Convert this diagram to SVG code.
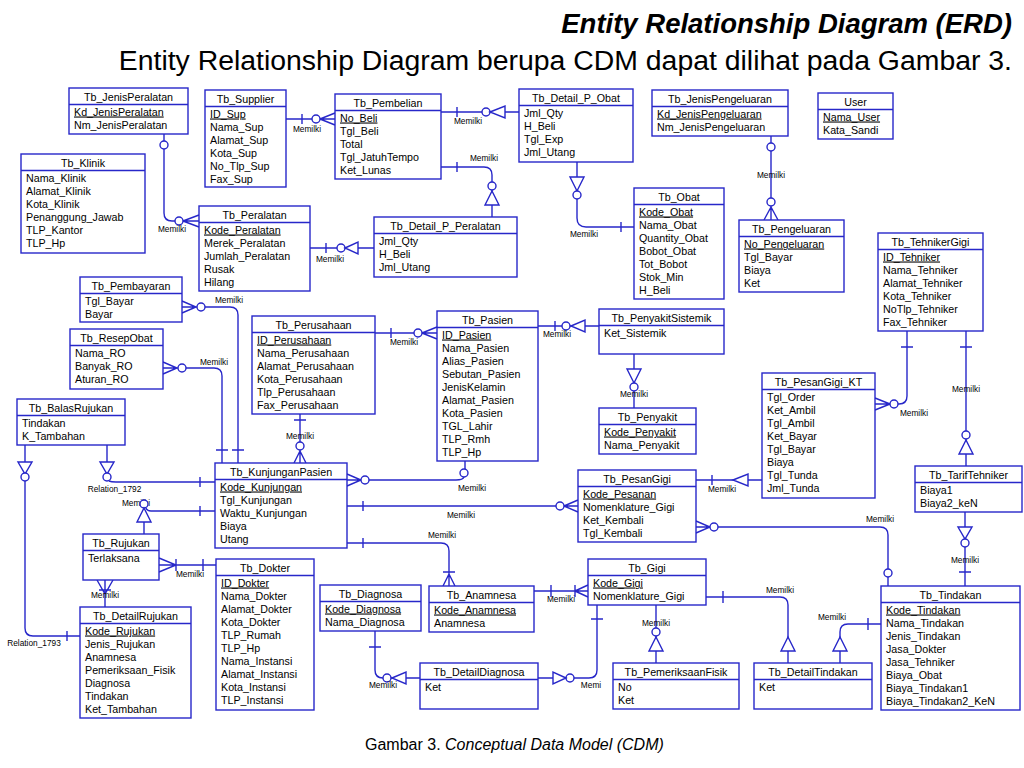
<svg xmlns="http://www.w3.org/2000/svg" width="1024" height="768" viewBox="0 0 1024 768">
<style>
text{font-family:"Liberation Sans",Arial,sans-serif;fill:#000}
.b{fill:#fff;stroke:#2727c9;stroke-width:1.4}
.d{fill:none;stroke:#2727c9;stroke-width:1.4}
.h{font-size:10.7px;text-anchor:middle}
.a{font-size:10.7px}
.k{text-decoration:underline}
.c{fill:none;stroke:#2727c9;stroke-width:1.4}
.o{fill:#fff;stroke:#2727c9;stroke-width:1.4}
.t{fill:#fff;stroke:#2727c9;stroke-width:1.4}
.lb{font-size:8.3px;text-anchor:middle}
</style>
<rect width="1024" height="768" fill="#fff"/>
<text x="1012" y="33" font-size="27.5" font-weight="bold" font-style="italic" text-anchor="end">Entity Relationship Diagram (ERD)</text>
<text x="1012" y="70" font-size="28.4" text-anchor="end">Entity Relationship Diagram berupa CDM dapat dilihat pada Gambar 3.</text>
<text x="365" y="750" font-size="16">Gambar 3. <tspan font-style="italic">Conceptual Data Model (CDM)</tspan></text>

<g id="connectors">
<path class="c" d="M286 119H335M302 114V124M320 119L335 113M320 119L335 125"/>
<circle class="o" cx="316" cy="119" r="4"/>
<text class="lb" x="307" y="132">Memilki</text>

<path class="c" d="M441 112H519M457 107V117"/>
<circle class="o" cx="486" cy="112" r="4"/>
<polygon class="t" points="490,112 505,106 505,118"/>
<text class="lb" x="468" y="124">Memilki</text>

<path class="c" d="M441 167H484Q492 167 492 175V217M457 162V172"/>
<circle class="o" cx="492" cy="186" r="4"/>
<polygon class="t" points="492,191 485,205 499,205"/>
<text class="lb" x="484" y="161">Memilki</text>

<path class="c" d="M577 162V218Q577 227 586 227H634M621 222V232"/>
<polygon class="t" points="570,177 584,177 577,191"/>
<circle class="o" cx="577" cy="195" r="4"/>
<text class="lb" x="584" y="237">Memilki</text>

<path class="c" d="M164 134V213Q164 221 172 221H199M183 221L199 215M183 221L199 227"/>
<circle class="o" cx="164" cy="145" r="4"/>
<circle class="o" cx="179" cy="221" r="4"/>
<text class="lb" x="172" y="232">Memilki</text>

<path class="c" d="M310 248H374M326 243V253"/>
<circle class="o" cx="341" cy="248" r="4"/>
<polygon class="t" points="345,248 358,242 358,254"/>
<text class="lb" x="330" y="262">Memilki</text>

<path class="c" d="M182 301L196 307L182 313M182 307H230Q238 307 238 315V463M232 450H244"/>
<circle class="o" cx="201" cy="307" r="4"/>
<text class="lb" x="229" y="303">Memilki</text>

<path class="c" d="M163 362L177 368L163 374M163 368H214Q222 368 222 376V463M216 450H228"/>
<circle class="o" cx="182" cy="368" r="4"/>
<text class="lb" x="214" y="365">Memilki</text>

<path class="c" d="M300 414V463M294 420H306M300 451L294 463M300 451L306 463"/>
<text class="lb" x="300" y="439">Memilki</text>
<circle class="o" cx="300" cy="446" r="4"/>

<path class="c" d="M375 333H437M391 328V338M422 333L437 327M422 333L437 339"/>
<circle class="o" cx="418" cy="333" r="4"/>
<text class="lb" x="404" y="345">Memilki</text>

<path class="c" d="M538 326H599M555 321V331"/>
<circle class="o" cx="566" cy="326" r="4"/>
<polygon class="t" points="571,326 585,320 585,332"/>
<text class="lb" x="557" y="337">Memilki</text>

<path class="c" d="M634 354V408"/>
<polygon class="t" points="627,369 641,369 634,383"/>
<circle class="o" cx="634" cy="387" r="4"/>
<text class="lb" x="634" y="397">Memilki</text>

<path class="c" d="M347 474L361 480L347 486M347 480H456Q463 480 464 477M465 461V469"/>
<circle class="o" cx="365" cy="480" r="4"/>
<circle class="o" cx="464" cy="473" r="4"/>
<text class="lb" x="472" y="491">Memilki</text>

<path class="c" d="M347 506H578M363 501V511M564 506L578 500M564 506L578 512"/>
<circle class="o" cx="560" cy="506" r="4"/>
<text class="lb" x="461" y="518">Memilki</text>

<path class="c" d="M347 543H441Q449 543 449 551V586M363 538V548M443 572H455M449 574L443 586M449 574L455 586"/>
<text class="lb" x="442" y="538">Memilki</text>

<path class="c" d="M107 445V462M109 481Q111 482 116 482H215M200 477V487"/>
<polygon class="t" points="100,462 114,462 107,474"/>
<circle class="o" cx="107" cy="477" r="4"/>
<text class="lb" x="114.5" y="492">Relation_1792</text>

<path class="c" d="M25 445V462M25 481V628Q25 636 33 636H80M67 631V641"/>
<polygon class="t" points="18,462 32,462 25,474"/>
<circle class="o" cx="25" cy="477" r="4"/>
<text class="lb" x="34" y="646">Relation_1793</text>

<text class="lb" x="136" y="506">Memilki</text>
<path class="c" d="M215 511H151Q147 511 146 508M144 522V534M200 506V516"/>
<circle class="o" cx="144" cy="504" r="4"/>
<polygon class="t" points="144,508 137,522 151,522"/>

<path class="c" d="M159 565H216M159 558L176 565L159 572M176 559V571M203 559V571"/>
<text class="lb" x="190" y="577">Memilki</text>

<path class="c" d="M105 580V607M97 580L105 594L113 580M99 590H111"/>
<text class="lb" x="105" y="598">Memilki</text>

<path class="c" d="M771 136V220M771 207L764 220M771 207L778 220"/>
<circle class="o" cx="771" cy="147" r="4"/>
<circle class="o" cx="771" cy="202" r="4"/>
<text class="lb" x="771" y="178">Memilki</text>

<path class="c" d="M907 331V396Q907 404 899 404H875M890 404L875 398M890 404L875 410M901 347H913"/>
<circle class="o" cx="894" cy="404" r="4"/>
<text class="lb" x="914" y="416">Memilki</text>

<path class="c" d="M966 331V466M960 347H972"/>
<text class="lb" x="966" y="392">Memilki</text>
<circle class="o" cx="966" cy="435" r="4"/>
<polygon class="t" points="966,440 959,454 973,454"/>

<path class="c" d="M696 480H762M712 475V485"/>
<polygon class="t" points="733,480 748,474 748,486"/>
<text class="lb" x="722" y="492">Memilki</text>

<path class="c" d="M965 512V586M959 572H971"/>
<polygon class="t" points="958,527 972,527 965,539"/>
<circle class="o" cx="965" cy="543" r="4"/>
<text class="lb" x="965" y="563">Memilki</text>

<path class="c" d="M696 521L710 527L696 533M696 527H880Q888 527 888 535V586"/>
<circle class="o" cx="714" cy="527" r="4"/>
<circle class="o" cx="888" cy="573" r="4"/>
<text class="lb" x="880" y="522">Memilki</text>

<path class="c" d="M534 591H588M551 585V597M575 585V597M575 591L588 585M575 591L588 597"/>
<text class="lb" x="561" y="602">Memilki</text>

<path class="c" d="M706 597H780Q788 597 788 605V663M723 591V603"/>
<polygon class="t" points="788,637 781,651 795,651"/>
<text class="lb" x="780" y="593">Memilki</text>

<path class="c" d="M881 624H848Q840 624 840 632V663M868 618V630"/>
<polygon class="t" points="840,637 833,651 847,651"/>
<text class="lb" x="832" y="620">Memilki</text>

<path class="c" d="M656 605V663"/>
<text class="lb" x="656" y="626">Memilki</text>
<circle class="o" cx="656" cy="632" r="4"/>
<polygon class="t" points="656,637 649,651 663,651"/>

<path class="c" d="M375 631V670Q375 678 383 678H420M369 647H381"/>
<circle class="o" cx="387" cy="678" r="4"/>
<polygon class="t" points="392,678 406,672 406,684"/>
<text class="lb" x="383" y="688">Memilki</text>

<path class="c" d="M597 605V670Q597 678 589 678H538M591 619H603"/>
<circle class="o" cx="570" cy="678" r="4"/>
<polygon class="t" points="566,678 553,672 553,684"/>
<text class="lb" x="591" y="688" text-anchor="start">Memi</text>
</g>

<g id="tb_jenisperalatan"><rect class="b" x="69" y="88" width="119" height="46"/><path class="d" d="M69 104.5h119"/><text class="h" x="128.5" y="100.5">Tb_JenisPeralatan</text><text class="a k" x="74" y="115.5">Kd_JenisPeralatan</text><text class="a" x="74" y="128.5">Nm_JenisPeralatan</text></g>

<g id="tb_supplier"><rect class="b" x="205" y="90" width="81" height="97"/><path class="d" d="M205 106.5h81"/><text class="h" x="245.5" y="102.5">Tb_Supplier</text><text class="a k" x="210" y="117.5">ID_Sup</text><text class="a" x="210" y="130.5">Nama_Sup</text><text class="a" x="210" y="143.5">Alamat_Sup</text><text class="a" x="210" y="156.5">Kota_Sup</text><text class="a" x="210" y="169.5">No_Tlp_Sup</text><text class="a" x="210" y="182.5">Fax_Sup</text></g>

<g id="tb_klinik"><rect class="b" x="21" y="154" width="124" height="99"/><path class="d" d="M21 170.5h124"/><text class="h" x="83" y="166.5">Tb_Klinik</text><text class="a" x="26" y="181.5">Nama_Klinik</text><text class="a" x="26" y="194.5">Alamat_Klinik</text><text class="a" x="26" y="207.5">Kota_Klinik</text><text class="a" x="26" y="220.5">Penanggung_Jawab</text><text class="a" x="26" y="233.5">TLP_Kantor</text><text class="a" x="26" y="246.5">TLP_Hp</text></g>

<g id="tb_peralatan"><rect class="b" x="199" y="206" width="111" height="85"/><path class="d" d="M199 222.5h111"/><text class="h" x="254.5" y="218.5">Tb_Peralatan</text><text class="a k" x="204" y="233.5">Kode_Peralatan</text><text class="a" x="204" y="246.5">Merek_Peralatan</text><text class="a" x="204" y="259.5">Jumlah_Peralatan</text><text class="a" x="204" y="272.5">Rusak</text><text class="a" x="204" y="285.5">Hilang</text></g>

<g id="tb_pembelian"><rect class="b" x="335" y="94" width="106" height="85"/><path class="d" d="M335 110.5h106"/><text class="h" x="388" y="106.5">Tb_Pembelian</text><text class="a k" x="340" y="121.5">No_Beli</text><text class="a" x="340" y="134.5">Tgl_Beli</text><text class="a" x="340" y="147.5">Total</text><text class="a" x="340" y="160.5">Tgl_JatuhTempo</text><text class="a" x="340" y="173.5">Ket_Lunas</text></g>

<g id="tb_detail_p_obat"><rect class="b" x="519" y="89" width="114" height="73"/><path class="d" d="M519 105.5h114"/><text class="h" x="576" y="101.5">Tb_Detail_P_Obat</text><text class="a" x="524" y="116.5">Jml_Qty</text><text class="a" x="524" y="129.5">H_Beli</text><text class="a" x="524" y="142.5">Tgl_Exp</text><text class="a" x="524" y="155.5">Jml_Utang</text></g>

<g id="tb_detail_p_peralatan"><rect class="b" x="374" y="217" width="143" height="60"/><path class="d" d="M374 233.5h143"/><text class="h" x="445.5" y="229.5">Tb_Detail_P_Peralatan</text><text class="a" x="379" y="244.5">Jml_Qty</text><text class="a" x="379" y="257.5">H_Beli</text><text class="a" x="379" y="270.5">Jml_Utang</text></g>

<g id="tb_obat"><rect class="b" x="634" y="188" width="90" height="111"/><path class="d" d="M634 204.5h90"/><text class="h" x="679" y="200.5">Tb_Obat</text><text class="a k" x="639" y="215.5">Kode_Obat</text><text class="a" x="639" y="228.5">Nama_Obat</text><text class="a" x="639" y="241.5">Quantity_Obat</text><text class="a" x="639" y="254.5">Bobot_Obat</text><text class="a" x="639" y="267.5">Tot_Bobot</text><text class="a" x="639" y="280.5">Stok_Min</text><text class="a" x="639" y="293.5">H_Beli</text></g>

<g id="tb_jenispengeluaran"><rect class="b" x="652" y="90" width="136" height="46"/><path class="d" d="M652 106.5h136"/><text class="h" x="720" y="102.5">Tb_JenisPengeluaran</text><text class="a k" x="657" y="117.5">Kd_JenisPengeluaran</text><text class="a" x="657" y="130.5">Nm_JenisPengeluaran</text></g>

<g id="user"><rect class="b" x="818" y="93" width="75" height="46"/><path class="d" d="M818 109.5h75"/><text class="h" x="855.5" y="105.5">User</text><text class="a k" x="823" y="120.5">Nama_User</text><text class="a" x="823" y="133.5">Kata_Sandi</text></g>

<g id="tb_pengeluaran"><rect class="b" x="739" y="220" width="105" height="72"/><path class="d" d="M739 236.5h105"/><text class="h" x="791.5" y="232.5">Tb_Pengeluaran</text><text class="a k" x="744" y="247.5">No_Pengeluaran</text><text class="a" x="744" y="260.5">Tgl_Bayar</text><text class="a" x="744" y="273.5">Biaya</text><text class="a" x="744" y="286.5">Ket</text></g>

<g id="tb_tehnikergigi"><rect class="b" x="878" y="233" width="105" height="98"/><path class="d" d="M878 249.5h105"/><text class="h" x="930.5" y="245.5">Tb_TehnikerGigi</text><text class="a k" x="883" y="260.5">ID_Tehniker</text><text class="a" x="883" y="273.5">Nama_Tehniker</text><text class="a" x="883" y="286.5">Alamat_Tehniker</text><text class="a" x="883" y="299.5">Kota_Tehniker</text><text class="a" x="883" y="312.5">NoTlp_Tehniker</text><text class="a" x="883" y="325.5">Fax_Tehniker</text></g>

<g id="tb_pembayaran"><rect class="b" x="80" y="277" width="102" height="45"/><path class="d" d="M80 293.5h102"/><text class="h" x="131" y="289.5">Tb_Pembayaran</text><text class="a" x="85" y="304.5">Tgl_Bayar</text><text class="a" x="85" y="317.5">Bayar</text></g>

<g id="tb_resepobat"><rect class="b" x="70" y="329" width="93" height="60"/><path class="d" d="M70 345.5h93"/><text class="h" x="116.5" y="341.5">Tb_ResepObat</text><text class="a" x="75" y="356.5">Nama_RO</text><text class="a" x="75" y="369.5">Banyak_RO</text><text class="a" x="75" y="382.5">Aturan_RO</text></g>

<g id="tb_perusahaan"><rect class="b" x="252" y="316" width="123" height="98"/><path class="d" d="M252 332.5h123"/><text class="h" x="313.5" y="328.5">Tb_Perusahaan</text><text class="a k" x="257" y="343.5">ID_Perusahaan</text><text class="a" x="257" y="356.5">Nama_Perusahaan</text><text class="a" x="257" y="369.5">Alamat_Perusahaan</text><text class="a" x="257" y="382.5">Kota_Perusahaan</text><text class="a" x="257" y="395.5">Tlp_Perusahaan</text><text class="a" x="257" y="408.5">Fax_Perusahaan</text></g>

<g id="tb_pasien"><rect class="b" x="437" y="311" width="101" height="150"/><path class="d" d="M437 327.5h101"/><text class="h" x="487.5" y="323.5">Tb_Pasien</text><text class="a k" x="442" y="338.5">ID_Pasien</text><text class="a" x="442" y="351.5">Nama_Pasien</text><text class="a" x="442" y="364.5">Alias_Pasien</text><text class="a" x="442" y="377.5">Sebutan_Pasien</text><text class="a" x="442" y="390.5">JenisKelamin</text><text class="a" x="442" y="403.5">Alamat_Pasien</text><text class="a" x="442" y="416.5">Kota_Pasien</text><text class="a" x="442" y="429.5">TGL_Lahir</text><text class="a" x="442" y="442.5">TLP_Rmh</text><text class="a" x="442" y="455.5">TLP_Hp</text></g>

<g id="tb_penyakitsistemik"><rect class="b" x="599" y="309" width="125" height="45"/><path class="d" d="M599 325.5h125"/><text class="h" x="661.5" y="321.5">Tb_PenyakitSistemik</text><text class="a" x="604" y="336.5">Ket_Sistemik</text></g>

<g id="tb_penyakit"><rect class="b" x="599" y="408" width="97" height="46"/><path class="d" d="M599 424.5h97"/><text class="h" x="647.5" y="420.5">Tb_Penyakit</text><text class="a k" x="604" y="435.5">Kode_Penyakit</text><text class="a" x="604" y="448.5">Nama_Penyakit</text></g>

<g id="tb_pesangigi_kt"><rect class="b" x="762" y="373" width="113" height="125"/><path class="d" d="M762 389.5h113"/><text class="h" x="818.5" y="385.5">Tb_PesanGigi_KT</text><text class="a" x="767" y="400.5">Tgl_Order</text><text class="a" x="767" y="413.5">Ket_Ambil</text><text class="a" x="767" y="426.5">Tgl_Ambil</text><text class="a" x="767" y="439.5">Ket_Bayar</text><text class="a" x="767" y="452.5">Tgl_Bayar</text><text class="a" x="767" y="465.5">Biaya</text><text class="a" x="767" y="478.5">Tgl_Tunda</text><text class="a" x="767" y="491.5">Jml_Tunda</text></g>

<g id="tb_balasrujukan"><rect class="b" x="17" y="399" width="108" height="46"/><path class="d" d="M17 415.5h108"/><text class="h" x="71" y="411.5">Tb_BalasRujukan</text><text class="a" x="22" y="426.5">Tindakan</text><text class="a" x="22" y="439.5">K_Tambahan</text></g>

<g id="tb_kunjunganpasien"><rect class="b" x="215" y="463" width="132" height="85"/><path class="d" d="M215 479.5h132"/><text class="h" x="281" y="475.5">Tb_KunjunganPasien</text><text class="a k" x="220" y="490.5">Kode_Kunjungan</text><text class="a" x="220" y="503.5">Tgl_Kunjungan</text><text class="a" x="220" y="516.5">Waktu_Kunjungan</text><text class="a" x="220" y="529.5">Biaya</text><text class="a" x="220" y="542.5">Utang</text></g>

<g id="tb_pesangigi"><rect class="b" x="578" y="470" width="118" height="72"/><path class="d" d="M578 486.5h118"/><text class="h" x="637" y="482.5">Tb_PesanGigi</text><text class="a k" x="583" y="497.5">Kode_Pesanan</text><text class="a" x="583" y="510.5">Nomenklature_Gigi</text><text class="a" x="583" y="523.5">Ket_Kembali</text><text class="a" x="583" y="536.5">Tgl_Kembali</text></g>

<g id="tb_tariftehniker"><rect class="b" x="915" y="466" width="107" height="46"/><path class="d" d="M915 482.5h107"/><text class="h" x="968.5" y="478.5">Tb_TarifTehniker</text><text class="a" x="920" y="493.5">Biaya1</text><text class="a" x="920" y="506.5">Biaya2_keN</text></g>

<g id="tb_rujukan"><rect class="b" x="83" y="534" width="76" height="46"/><path class="d" d="M83 550.5h76"/><text class="h" x="121" y="546.5">Tb_Rujukan</text><text class="a" x="88" y="561.5">Terlaksana</text></g>

<g id="tb_dokter"><rect class="b" x="216" y="559" width="98" height="151"/><path class="d" d="M216 575.5h98"/><text class="h" x="265" y="571.5">Tb_Dokter</text><text class="a k" x="221" y="586.5">ID_Dokter</text><text class="a" x="221" y="599.5">Nama_Dokter</text><text class="a" x="221" y="612.5">Alamat_Dokter</text><text class="a" x="221" y="625.5">Kota_Dokter</text><text class="a" x="221" y="638.5">TLP_Rumah</text><text class="a" x="221" y="651.5">TLP_Hp</text><text class="a" x="221" y="664.5">Nama_Instansi</text><text class="a" x="221" y="677.5">Alamat_Instansi</text><text class="a" x="221" y="690.5">Kota_Instansi</text><text class="a" x="221" y="703.5">TLP_Instansi</text></g>

<g id="tb_detailrujukan"><rect class="b" x="80" y="607" width="111" height="111"/><path class="d" d="M80 623.5h111"/><text class="h" x="135.5" y="619.5">Tb_DetailRujukan</text><text class="a k" x="85" y="634.5">Kode_Rujukan</text><text class="a" x="85" y="647.5">Jenis_Rujukan</text><text class="a" x="85" y="660.5">Anamnesa</text><text class="a" x="85" y="673.5">Pemeriksaan_Fisik</text><text class="a" x="85" y="686.5">Diagnosa</text><text class="a" x="85" y="699.5">Tindakan</text><text class="a" x="85" y="712.5">Ket_Tambahan</text></g>

<g id="tb_diagnosa"><rect class="b" x="320" y="585" width="101" height="46"/><path class="d" d="M320 601.5h101"/><text class="h" x="370.5" y="597.5">Tb_Diagnosa</text><text class="a k" x="325" y="612.5">Kode_Diagnosa</text><text class="a" x="325" y="625.5">Nama_Diagnosa</text></g>

<g id="tb_anamnesa"><rect class="b" x="429" y="586" width="105" height="46"/><path class="d" d="M429 602.5h105"/><text class="h" x="481.5" y="598.5">Tb_Anamnesa</text><text class="a k" x="434" y="613.5">Kode_Anamnesa</text><text class="a" x="434" y="626.5">Anamnesa</text></g>

<g id="tb_gigi"><rect class="b" x="588" y="559" width="118" height="46"/><path class="d" d="M588 575.5h118"/><text class="h" x="647" y="571.5">Tb_Gigi</text><text class="a k" x="593" y="586.5">Kode_Gigi</text><text class="a" x="593" y="599.5">Nomenklature_Gigi</text></g>

<g id="tb_detaildiagnosa"><rect class="b" x="420" y="663" width="118" height="46"/><path class="d" d="M420 679.5h118"/><text class="h" x="479" y="675.5">Tb_DetailDiagnosa</text><text class="a" x="425" y="690.5">Ket</text></g>

<g id="tb_pemeriksaanfisik"><rect class="b" x="613" y="663" width="126" height="46"/><path class="d" d="M613 679.5h126"/><text class="h" x="676" y="675.5">Tb_PemeriksaanFisik</text><text class="a" x="618" y="690.5">No</text><text class="a" x="618" y="703.5">Ket</text></g>

<g id="tb_detailtindakan"><rect class="b" x="754" y="663" width="118" height="46"/><path class="d" d="M754 679.5h118"/><text class="h" x="813" y="675.5">Tb_DetailTindakan</text><text class="a" x="759" y="690.5">Ket</text></g>

<g id="tb_tindakan"><rect class="b" x="881" y="586" width="139" height="124"/><path class="d" d="M881 602.5h139"/><text class="h" x="950.5" y="598.5">Tb_Tindakan</text><text class="a k" x="886" y="613.5">Kode_Tindakan</text><text class="a" x="886" y="626.5">Nama_Tindakan</text><text class="a" x="886" y="639.5">Jenis_Tindakan</text><text class="a" x="886" y="652.5">Jasa_Dokter</text><text class="a" x="886" y="665.5">Jasa_Tehniker</text><text class="a" x="886" y="678.5">Biaya_Obat</text><text class="a" x="886" y="691.5">Biaya_Tindakan1</text><text class="a" x="886" y="704.5">Biaya_Tindakan2_KeN</text></g>
</svg>
